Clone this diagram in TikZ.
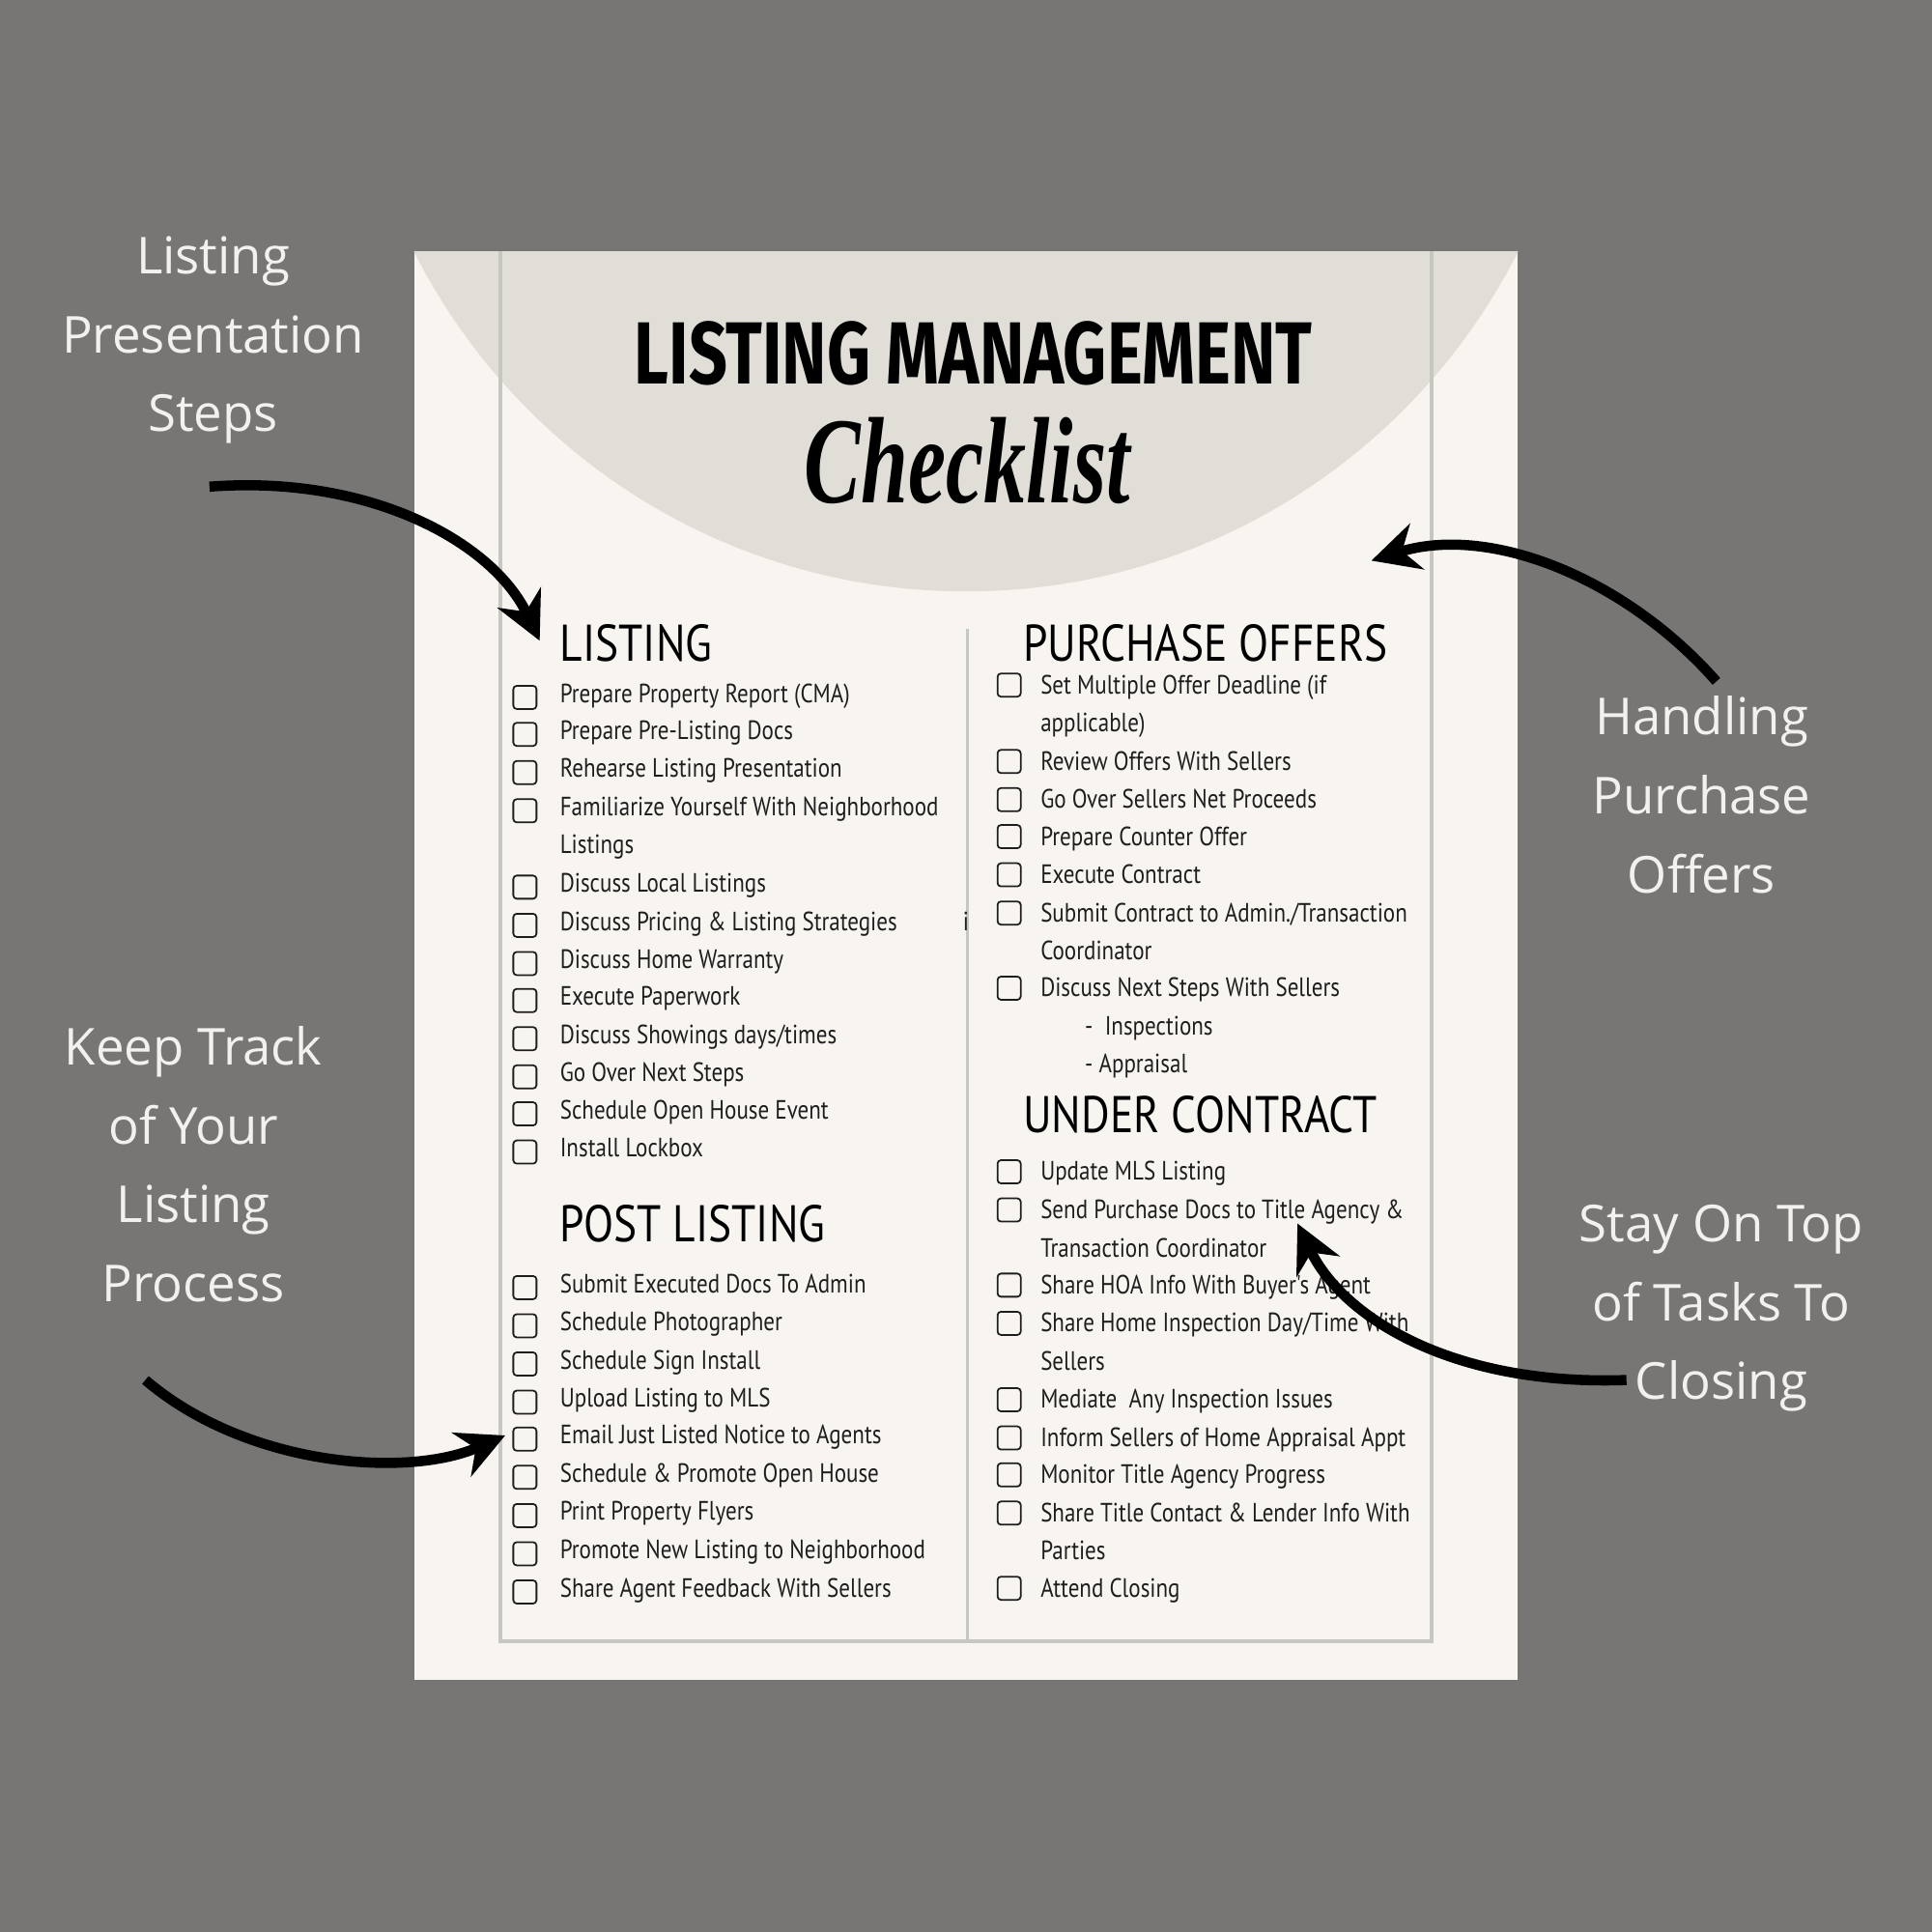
\documentclass[tikz,border=0pt]{standalone}
\usepackage{fontspec}
\usetikzlibrary{arrows.meta}
\newfontfamily\itemfont[FakeStretch=0.84]{PT Sans}
\newfontfamily\headfont[FakeStretch=0.85]{PT Sans}
\newfontfamily\titlefont[FakeStretch=0.78]{Fira Sans}
\newfontfamily\sidefont{Open Sans}
\definecolor{bg}{HTML}{777675}
\definecolor{paper}{HTML}{F8F5F1}
\definecolor{arcc}{HTML}{E0DED6}
\definecolor{frame}{HTML}{C8C6C0}
\definecolor{side}{HTML}{F5F0F0}
\definecolor{ink}{HTML}{1E1E1E}
\tikzset{
 itm/.style={anchor=base west,font=\itemfont\fontsize{7.8}{9}\selectfont,text=ink,inner sep=0pt},
 hd/.style={anchor=base west,font=\headfont\fontsize{15.2}{18}\selectfont,text=black,inner sep=0pt},
 box/.style={draw=ink,line width=0.5pt,rounded corners=1pt,minimum size=0.24cm,inner sep=0pt},
 sidelbl/.style={align=center,font=\sidefont\fontsize{15}{23.2}\selectfont,text=side},
 bigarrow/.style={draw=black,line width=3pt,-{Stealth[length=14pt,width=14pt]}}
}
\begin{document}
\begin{tikzpicture}[x=0.012755cm,y=-0.012755cm]
\fill[bg] (0,0) rectangle (1568,1568);
\useasboundingbox (0,0) rectangle (1568,1568);
\fill[paper] (336,204) rectangle (1232,1363);
\begin{scope}
\clip (336,204) rectangle (1232,1363);
\fill[arcc] (784,-21.6) circle (501.6);
\end{scope}
\draw[frame,line width=1pt] (406,204) -- (406,1332) -- (1162,1332) -- (1162,204);
\draw[frame,line width=1pt] (785,510) -- (785,1332);
\node[inner sep=0pt,anchor=base] (title) at (790,312) {\scalebox{1}[1.02]{\titlefont\bfseries\fontsize{25.5}{26}\selectfont LISTING MANAGEMENT}};
\node[inner sep=0pt,anchor=base] (chk) at (785,408) {\scalebox{1}[1.45]{\fontspec{Liberation Serif}\bfseries\itshape\fontsize{25}{26}\selectfont Checklist}};
\node[hd] (h1) at (454,537) {LISTING};
\node[hd] (h2) at (454,1008) {POST LISTING};
\node[hd] (h3) at (830,537) {PURCHASE OFFERS};
\node[hd] (h4) at (830,919) {UNDER CONTRACT};
\foreach \y/\t/\b in {564/{Prepare Property Report (CMA)}/1,594/{Prepare Pre-Listing Docs}/1,625/{Rehearse Listing Presentation}/1,656/{Familiarize Yourself With Neighborhood}/1,687/{Listings}/0,718/{Discuss Local Listings}/1,749/{Discuss Pricing \& Listing Strategies}/1,780/{Discuss Home Warranty}/1,810/{Execute Paperwork}/1,841/{Discuss Showings days/times}/1,872/{Go Over Next Steps}/1,902/{Schedule Open House Event}/1,933/{Install Lockbox}/1,1043/{Submit Executed Docs To Admin}/1,1074/{Schedule Photographer}/1,1105/{Schedule Sign Install}/1,1136/{Upload Listing to MLS}/1,1166/{Email Just Listed Notice to Agents}/1,1197/{Schedule \& Promote Open House}/1,1228/{Print Property Flyers}/1,1259/{Promote New Listing to Neighborhood}/1,1290/{Share Agent Feedback With Sellers}/1}{
 \node[itm] (L\y) at (454,\y+6) {\t};
 \ifnum\b=1 \node[box] (LB\y) at (426,\y+2) {};\fi
}
\foreach \y/\t/\b in {557/{Set Multiple Offer Deadline (if}/1,588/{applicable)}/0,619/{Review Offers With Sellers}/1,650/{Go Over Sellers Net Proceeds}/1,680/{Prepare Counter Offer}/1,711/{Execute Contract}/1,742/{Submit Contract to Admin./Transaction}/1,773/{Coordinator}/0,803/{Discuss Next Steps With Sellers}/1,952/{Update MLS Listing}/1,983/{Send Purchase Docs to Title Agency \&}/1,1014/{Transaction Coordinator}/0,1044/{Share HOA Info With Buyer's Agent}/1,1075/{Share Home Inspection Day/Time With}/1,1106/{Sellers}/0,1137/{Mediate \ Any Inspection Issues}/1,1168/{Inform Sellers of Home Appraisal Appt}/1,1198/{Monitor Title Agency Progress}/1,1229/{Share Title Contact \& Lender Info With}/1,1260/{Parties}/0,1290/{Attend Closing}/1}{
 \node[itm] (R\y) at (844,\y+6) {\t};
 \ifnum\b=1 \node[box] (RB\y) at (819,\y-1) {};\fi
}
\node[itm] (insp) at (880,840) {- \ Inspections};
\node[itm] (appr) at (880,871) {- Appraisal};
\node[itm] (stray) at (781,755) {i};
\node[sidelbl] (s1) at (173,276) {Listing\\Presentation\\Steps};
\node[sidelbl] (s2) at (1381,645) {Handling\\Purchase\\Offers};
\node[sidelbl] (s3) at (157,945) {Keep Track\\of Your\\Listing\\Process};
\node[sidelbl] (s4) at (1397,1062) {Stay On Top\\of Tasks To\\Closing};
\coordinate (a1s) at (170,395); \coordinate (a1e) at (438,520);
\coordinate (a2s) at (1393,553); \coordinate (a2e) at (1113,455);
\coordinate (a3s) at (118,1120); \coordinate (a3e) at (410,1165);
\coordinate (a4s) at (1320,1120); \coordinate (a4e) at (1053,993);
\draw[bigarrow] (a1s) .. controls (300,385) and (400,440) .. (a1e);
\draw[bigarrow] (a2s) .. controls (1320,470) and (1210,425) .. (a2e);
\draw[bigarrow] (a3s) .. controls (200,1190) and (330,1200) .. (a3e);
\draw[bigarrow] (a4s) .. controls (1180,1125) and (1090,1070) .. (a4e);
\end{tikzpicture}
\end{document}
